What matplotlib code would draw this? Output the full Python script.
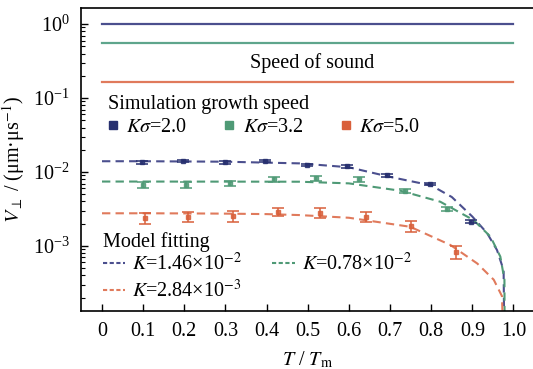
import matplotlib
matplotlib.use("Agg")
import matplotlib.pyplot as plt
from matplotlib.lines import Line2D

plt.rcParams["font.family"] = ["Liberation Serif", "DejaVu Serif"]
plt.rcParams["mathtext.fontset"] = "stix"
plt.rcParams["font.size"] = 14.5

# colours
BLUE = "#27306f"
GREEN = "#4f9a76"
ORANGE = "#d9603b"
BLUE_L = "#4b4f8e"
GREEN_L = "#5ea58c"
ORANGE_L = "#e07a5c"

# speed of sound (horizontal lines)
sound_T = [0.0, 1.0]
sound_blue = 1.0
sound_green = 0.548
sound_orange = 0.166

# simulation growth speed (points with error bars)
blue_T = [0.097, 0.198, 0.298, 0.397, 0.498, 0.595, 0.693, 0.798, 0.897]
blue_V = [0.0135, 0.0141, 0.0135, 0.0141, 0.0124, 0.0120, 0.0091, 0.0069, 0.00213]
blue_err = [0.0005, 0.0005, 0.0005, 0.0005, 0.0005, 0.0005, 0.0004, 0.0003, 0.0001]

green_T = [0.100, 0.204, 0.311, 0.417, 0.521, 0.624, 0.737, 0.839]
green_V = [0.00667, 0.00667, 0.00703, 0.00797, 0.00822, 0.00797, 0.00554, 0.00313]
green_err = [0.0006, 0.0006, 0.0005, 0.0006, 0.0006, 0.0006, 0.0003, 0.0002]

orange_T = [0.105, 0.210, 0.318, 0.427, 0.530, 0.642, 0.751, 0.861]
orange_V = [0.00237, 0.00249, 0.00254, 0.00291, 0.00282, 0.00249, 0.00186, 0.00084]
orange_err = [0.0004, 0.0004, 0.0004, 0.0004, 0.0004, 0.0004, 0.0003, 0.00017]

# model fitting curves
fit_blue_T = [0.0, 0.1, 0.2, 0.3, 0.4, 0.48, 0.6, 0.7, 0.8, 0.85, 0.9, 0.936, 0.96, 0.976, 0.979]
fit_blue_V = [0.0140, 0.0140, 0.0139, 0.0138, 0.0134, 0.0131, 0.0116, 0.0086, 0.0066, 0.0046,
              0.0025, 0.00149, 0.00088, 0.00047, 1e-5]
fit_green_T = [0.0, 0.1, 0.2, 0.3, 0.4, 0.48, 0.6, 0.725, 0.822, 0.903, 0.944, 0.968, 0.978, 0.979]
fit_green_V = [0.00744, 0.00744, 0.00743, 0.00742, 0.00741, 0.00740, 0.00703, 0.00559, 0.00397,
               0.00224, 0.00134, 0.00072, 0.00035, 1e-5]
fit_orange_T = [0.0, 0.1, 0.2, 0.3, 0.4, 0.48, 0.6, 0.749, 0.847, 0.912, 0.952, 0.972, 0.979]
fit_orange_V = [0.00277, 0.00277, 0.00276, 0.00274, 0.00270, 0.00262, 0.00241, 0.00182, 0.00103,
                0.00058, 0.00035, 0.00021, 1e-5]

xticks = [0, 0.1, 0.2, 0.3, 0.4, 0.5, 0.6, 0.7, 0.8, 0.9, 1.0]
xtick_labels = ["0", "0.1", "0.2", "0.3", "0.4", "0.5", "0.6", "0.7", "0.8", "0.9", "1.0"]

fig = plt.figure(figsize=(5.33, 3.69), dpi=100)
ax = fig.add_axes([0.152, 0.157, 0.85, 0.821])

ax.plot(sound_T, [sound_blue] * 2, color=BLUE_L, lw=1.6)
ax.plot(sound_T, [sound_green] * 2, color=GREEN_L, lw=1.6)
ax.plot(sound_T, [sound_orange] * 2, color=ORANGE_L, lw=1.6)
ax.text(0.51, 0.297, "Speed of sound", ha="center", va="center")

dash = (0, (4, 2.5))
ax.plot(fit_blue_T, fit_blue_V, color=BLUE_L, lw=1.5, linestyle=dash)
ax.plot(fit_green_T, fit_green_V, color=GREEN, lw=1.5, linestyle=dash)
ax.plot(fit_orange_T, fit_orange_V, color=ORANGE_L, lw=1.5, linestyle=dash)

for T, V, err, c in [(blue_T, blue_V, blue_err, BLUE), (green_T, green_V, green_err, GREEN),
                     (orange_T, orange_V, orange_err, ORANGE)]:
    ax.errorbar(T, V, yerr=err, fmt="s", color=c, ms=3.5, capsize=4,
                elinewidth=1.3, capthick=1.3, alpha=0.85)

ax.set_yscale("log")
ax.set_xlim(-0.051, 1.05)
ax.set_ylim(1.32e-4, 1.645)
ax.set_xticks(xticks)
ax.set_xticklabels(xtick_labels)
ax.tick_params(which="major", direction="in", length=5, width=1, pad=8)
ax.tick_params(which="minor", direction="in", length=3, width=0.8)
ax.tick_params(axis="x", which="minor", bottom=False)
ax.spines["right"].set_visible(False)
for s in ax.spines.values():
    s.set_linewidth(1.2)

ax.set_xlabel("$T$ / $T_{\\mathrm{m}}$", labelpad=6)
ax.set_ylabel("$V_{\\perp}$ / (μm·μs$^{-1}$)", labelpad=4)

sim_handles = [Line2D([], [], marker="s", ls="none", color=c, ms=6) for c in (BLUE, GREEN, ORANGE)]
sim_labels = ["$K\\sigma$=2.0", "$K\\sigma$=3.2", "$K\\sigma$=5.0"]
leg1 = ax.legend(sim_handles, sim_labels, title="Simulation growth speed", ncol=3,
                 loc="upper left", bbox_to_anchor=(0.037, 0.748), frameon=False,
                 borderpad=0, handlelength=0.5, handletextpad=0.4, columnspacing=1.85,
                 labelspacing=0.2, alignment="left")
ax.add_artist(leg1)

fit_handles = [Line2D([], [], color=c, lw=1.5, linestyle=(0, (2, 1.2)))
               for c in (BLUE_L, ORANGE_L, GREEN)]
fit_labels = ["$K$=1.46×10$^{-2}$", "$K$=2.84×10$^{-3}$", "$K$=0.78×10$^{-2}$"]
ax.legend(fit_handles, fit_labels, title="Model fitting", ncol=2,
          loc="upper left", bbox_to_anchor=(0.026, 0.295), frameon=False,
          borderpad=0, handlelength=1.1, handletextpad=0.35, columnspacing=1.5,
          labelspacing=0.25, alignment="left")
leg2 = ax.get_legend()
leg2._legend_box.sep = 1

fig.savefig("out.png", dpi=100)
